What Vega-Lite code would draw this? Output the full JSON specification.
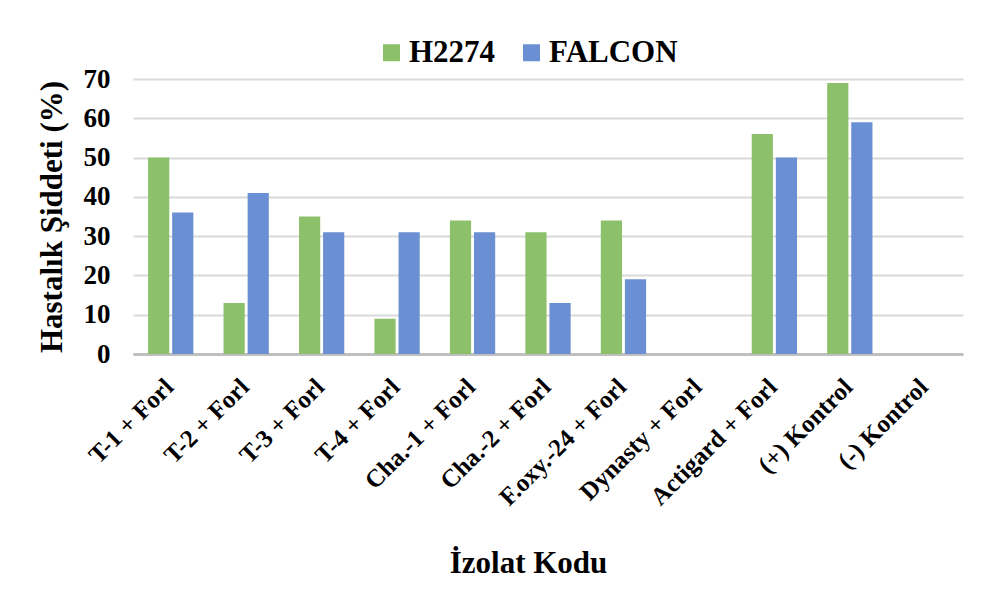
{
  "$schema": "https://vega.github.io/schema/vega-lite/v6.json",
  "autosize": "none",
  "width": 830,
  "height": 275,
  "padding": {"left": 133, "top": 79, "right": 22, "bottom": 235},
  "background": "white",
  "config": {
    "font": "Liberation Serif",
    "view": {"stroke": null}
  },
  "data": {
    "values": [
      {"kod": "T-1 + Forl", "cesit": "H2274", "deger": 50},
      {"kod": "T-1 + Forl", "cesit": "FALCON", "deger": 36},
      {"kod": "T-2 + Forl", "cesit": "H2274", "deger": 13},
      {"kod": "T-2 + Forl", "cesit": "FALCON", "deger": 41},
      {"kod": "T-3 + Forl", "cesit": "H2274", "deger": 35},
      {"kod": "T-3 + Forl", "cesit": "FALCON", "deger": 31},
      {"kod": "T-4 + Forl", "cesit": "H2274", "deger": 9},
      {"kod": "T-4 + Forl", "cesit": "FALCON", "deger": 31},
      {"kod": "Cha.-1 + Forl", "cesit": "H2274", "deger": 34},
      {"kod": "Cha.-1 + Forl", "cesit": "FALCON", "deger": 31},
      {"kod": "Cha.-2 + Forl", "cesit": "H2274", "deger": 31},
      {"kod": "Cha.-2 + Forl", "cesit": "FALCON", "deger": 13},
      {"kod": "F.oxy.-24 + Forl", "cesit": "H2274", "deger": 34},
      {"kod": "F.oxy.-24 + Forl", "cesit": "FALCON", "deger": 19},
      {"kod": "Dynasty + Forl", "cesit": "H2274", "deger": 0},
      {"kod": "Dynasty + Forl", "cesit": "FALCON", "deger": 0},
      {"kod": "Actigard + Forl", "cesit": "H2274", "deger": 56},
      {"kod": "Actigard + Forl", "cesit": "FALCON", "deger": 50},
      {"kod": "(+) Kontrol", "cesit": "H2274", "deger": 69},
      {"kod": "(+) Kontrol", "cesit": "FALCON", "deger": 59},
      {"kod": "(-) Kontrol", "cesit": "H2274", "deger": 0},
      {"kod": "(-) Kontrol", "cesit": "FALCON", "deger": 0}
    ]
  },
  "mark": {"type": "bar"},
  "encoding": {
    "x": {
      "field": "kod",
      "type": "nominal",
      "sort": null,
      "scale": {"paddingInner": 0.4, "paddingOuter": 0.2},
      "axis": {
        "title": "İzolat Kodu",
        "titleFont": "Liberation Serif",
        "titleFontSize": 31,
        "titleFontWeight": "bold",
        "titleColor": "black",
        "titleY": 218,
        "titleX": 395,
        "titleBaseline": "alphabetic",
        "labelAngle": -45,
        "labelFont": "Liberation Serif",
        "labelFontSize": 25,
        "labelFontWeight": "bold",
        "labelColor": "black",
        "labelPadding": 20,
        "labelOffset": -10,
        "labelOverlap": false,
        "labelLimit": 400,
        "ticks": false,
        "domainColor": "#BFBFBF",
        "domainWidth": 3
      }
    },
    "xOffset": {
      "field": "cesit",
      "type": "nominal",
      "sort": ["H2274", "FALCON"],
      "scale": {"paddingInner": 0.12}
    },
    "y": {
      "field": "deger",
      "type": "quantitative",
      "scale": {"domain": [0, 70]},
      "axis": {
        "title": "Hastalık Şiddeti (%)",
        "titleFont": "Liberation Serif",
        "titleFontSize": 31,
        "titleFontWeight": "bold",
        "titleColor": "black",
        "titleX": -65,
        "titleBaseline": "bottom",
        "values": [0, 10, 20, 30, 40, 50, 60, 70],
        "labelFont": "Liberation Serif",
        "labelFontSize": 27,
        "labelFontWeight": "bold",
        "labelColor": "black",
        "labelPadding": 23,
        "ticks": false,
        "domain": false,
        "gridColor": "#D9D9D9",
        "gridWidth": 2
      }
    },
    "color": {
      "field": "cesit",
      "type": "nominal",
      "sort": ["H2274", "FALCON"],
      "scale": {"domain": ["H2274", "FALCON"], "range": ["#8DC06B", "#6B8FD3"]},
      "legend": {
        "title": null,
        "orient": "none",
        "direction": "horizontal",
        "legendX": 243,
        "legendY": -42,
        "symbolType": "square",
        "symbolSize": 289,
        "symbolStrokeWidth": 0,
        "labelFont": "Liberation Serif",
        "labelFontSize": 31,
        "labelFontWeight": "bold",
        "labelColor": "black",
        "columnPadding": 20,
        "labelOffset": 2
      }
    }
  }
}
